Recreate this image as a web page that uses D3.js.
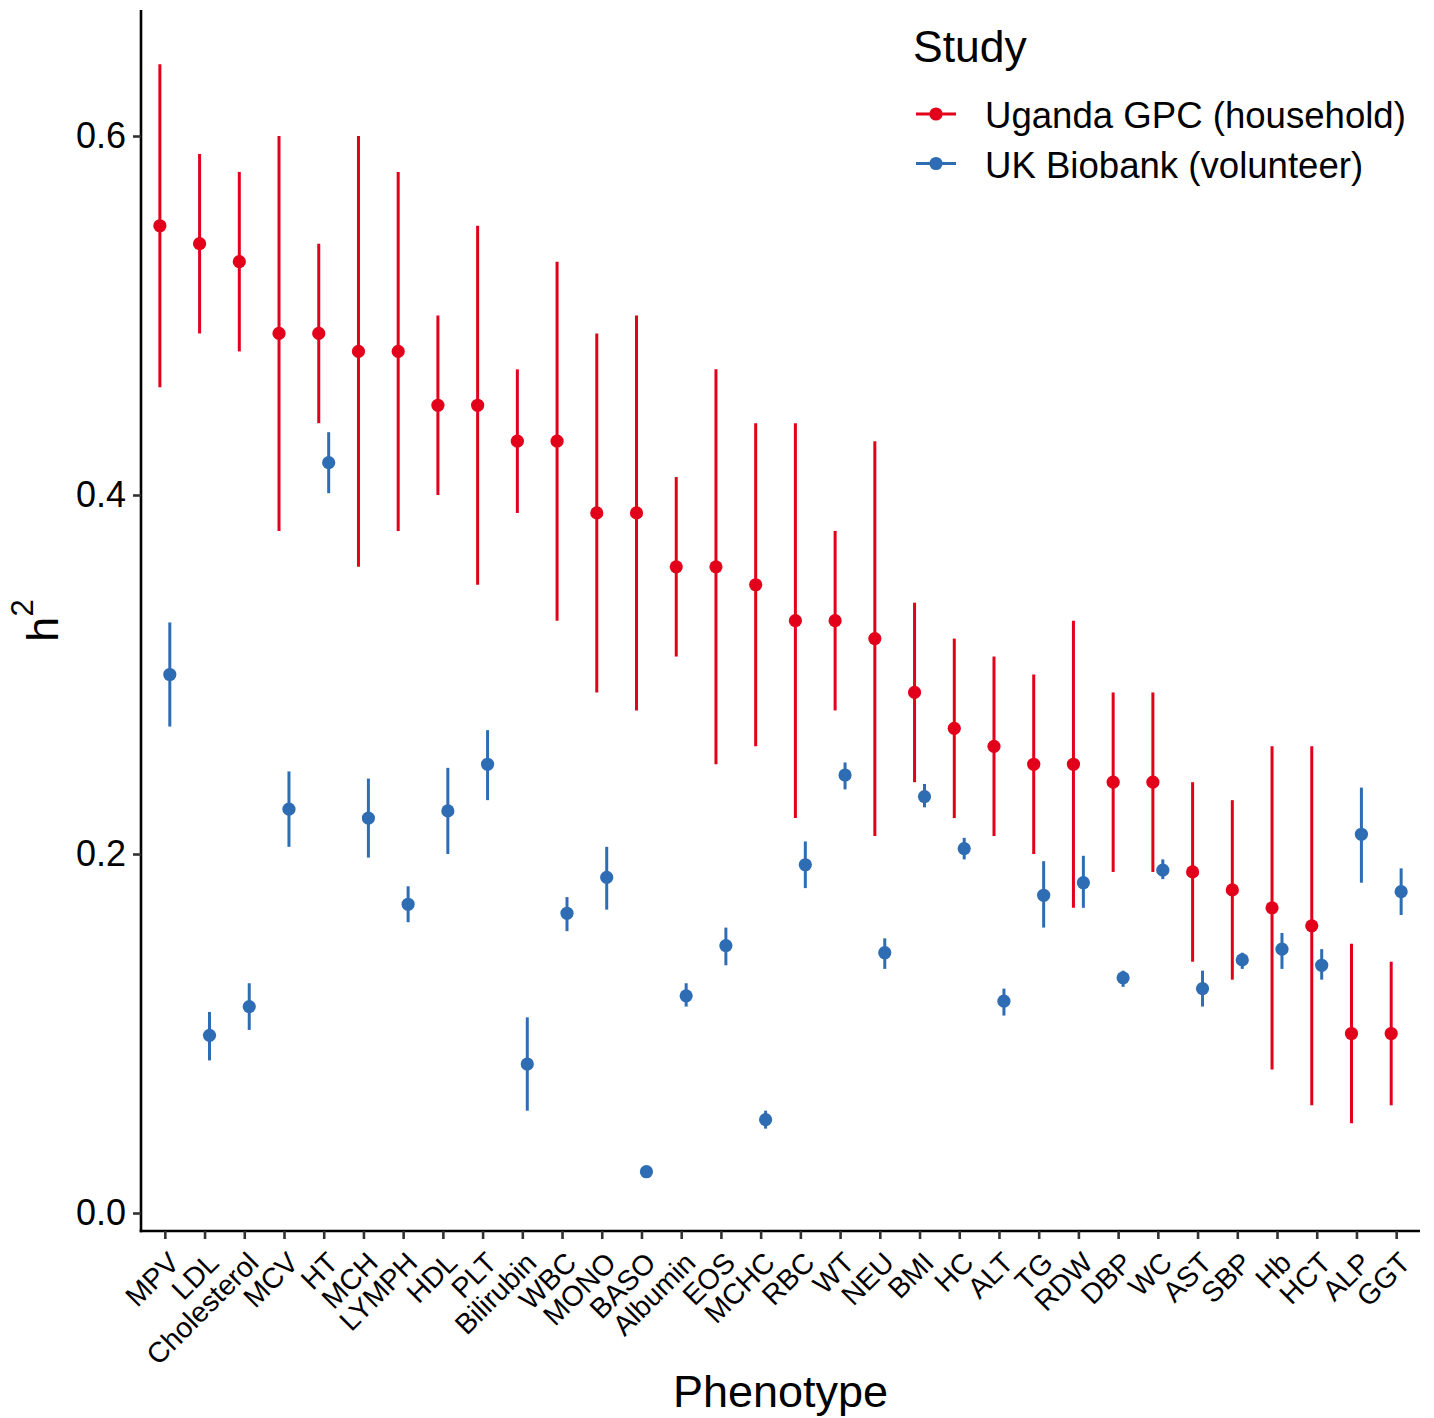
<!DOCTYPE html>
<html>
<head>
<meta charset="utf-8">
<script src="https://cdn.jsdelivr.net/npm/d3@7"></script>
<style>
  body { margin: 0; background: #fff; }
  text { font-family: "Liberation Sans", Arial, sans-serif; fill: #000; }
</style>
</head>
<body>
<svg id="chart" width="1434" height="1418"></svg>
<script>
/* Data (h2 estimate with lower / upper bound) */
const phenotypes = ["MPV", "LDL", "Cholesterol", "MCV", "HT", "MCH", "LYMPH", "HDL", "PLT", "Bilirubin",
  "WBC", "MONO", "BASO", "Albumin", "EOS", "MCHC", "RBC", "WT", "NEU", "BMI", "HC", "ALT", "TG", "RDW",
  "DBP", "WC", "AST", "SBP", "Hb", "HCT", "ALP", "GGT"];

const ugandaH2 = [0.55, 0.54, 0.53, 0.49, 0.49, 0.48, 0.48, 0.45, 0.45, 0.43, 0.43, 0.39, 0.39, 0.36, 0.36, 0.35,
  0.33, 0.33, 0.32, 0.29, 0.27, 0.26, 0.25, 0.25, 0.24, 0.24, 0.19, 0.18, 0.17, 0.16, 0.10, 0.10];
const ugandaLo = [0.46, 0.49, 0.48, 0.38, 0.44, 0.36, 0.38, 0.40, 0.35, 0.39, 0.33, 0.29, 0.28, 0.31, 0.25, 0.26,
  0.22, 0.28, 0.21, 0.24, 0.22, 0.21, 0.20, 0.17, 0.19, 0.19, 0.14, 0.13, 0.08, 0.06, 0.05, 0.06];
const ugandaHi = [0.64, 0.59, 0.58, 0.60, 0.54, 0.60, 0.58, 0.50, 0.55, 0.47, 0.53, 0.49, 0.50, 0.41, 0.47, 0.44,
  0.44, 0.38, 0.43, 0.34, 0.32, 0.31, 0.30, 0.33, 0.29, 0.29, 0.24, 0.23, 0.26, 0.26, 0.15, 0.14];

const ukH2 = [0.300, 0.099, 0.115, 0.225, 0.418, 0.220, 0.172, 0.224, 0.250, 0.083, 0.167, 0.187, 0.023, 0.121,
  0.149, 0.052, 0.194, 0.244, 0.145, 0.232, 0.203, 0.118, 0.177, 0.184, 0.131, 0.191, 0.125, 0.141, 0.147,
  0.138, 0.211, 0.179];
const ukLo = [0.271, 0.085, 0.102, 0.204, 0.401, 0.198, 0.162, 0.200, 0.230, 0.057, 0.157, 0.169, 0.022, 0.115,
  0.138, 0.047, 0.181, 0.236, 0.136, 0.226, 0.197, 0.110, 0.159, 0.170, 0.126, 0.186, 0.115, 0.136, 0.136,
  0.130, 0.184, 0.166];
const ukHi = [0.329, 0.112, 0.128, 0.246, 0.435, 0.242, 0.182, 0.248, 0.269, 0.109, 0.176, 0.204, 0.024, 0.128,
  0.159, 0.057, 0.207, 0.251, 0.153, 0.239, 0.209, 0.125, 0.196, 0.199, 0.135, 0.197, 0.135, 0.145, 0.156,
  0.147, 0.237, 0.192];

const studies = ["Uganda GPC (household)", "UK Biobank (volunteer)"];
const studyColors = ["#E2001A", "#2E6DB4"];
const yTicks = [0, 0.2, 0.4, 0.6];

/* Layout */
const plot = { left: 141, right: 1420, top: 10, bottom: 1231 };
const font = "'Liberation Sans', Arial, sans-serif";

const svg = d3.select("#chart");

const x = d3.scalePoint()
  .domain(phenotypes)
  .range([plot.left, plot.right])
  .padding(0.6);

const y = d3.scaleLinear()
  .domain([-0.01003, 0.6702])
  .range([plot.bottom, plot.top]);

// position_dodge: Uganda left of the tick, UK right of it
const dodge = x.step() * 0.125;

const series = [
  { study: studies[0], color: studyColors[0], offset: -dodge,
    rows: phenotypes.map((p, i) => ({ p, v: ugandaH2[i], lo: ugandaLo[i], hi: ugandaHi[i] })) },
  { study: studies[1], color: studyColors[1], offset: dodge,
    rows: phenotypes.map((p, i) => ({ p, v: ukH2[i], lo: ukLo[i], hi: ukHi[i] })) }
];

// Error ranges and points
const groups = svg.append("g")
  .selectAll("g")
  .data(series)
  .join("g");

groups.selectAll("line")
  .data(s => s.rows.map(r => ({ ...r, s })))
  .join("line")
  .attr("x1", d => x(d.p) + d.s.offset)
  .attr("x2", d => x(d.p) + d.s.offset)
  .attr("y1", d => y(d.lo))
  .attr("y2", d => y(d.hi))
  .attr("stroke", d => d.s.color)
  .attr("stroke-width", 3);

groups.selectAll("circle")
  .data(s => s.rows.map(r => ({ ...r, s })))
  .join("circle")
  .attr("cx", d => x(d.p) + d.s.offset)
  .attr("cy", d => y(d.v))
  .attr("r", 6.6)
  .attr("fill", d => d.s.color);

// Y axis
const yAxis = svg.append("g")
  .attr("transform", `translate(${plot.left},0)`)
  .call(d3.axisLeft(y).tickValues(yTicks).tickFormat(d3.format(".1f"))
    .tickSize(8).tickSizeOuter(0).tickPadding(7));
yAxis.select(".domain").attr("stroke", "#000").attr("stroke-width", 2.6)
  .attr("d", `M0,${plot.top}V${plot.bottom + 1.3}`);
yAxis.selectAll(".tick line").attr("stroke", "#333").attr("stroke-width", 2.6);
yAxis.selectAll(".tick text").attr("font-size", 36).attr("fill", "#000")
  .style("font-family", font);

// X axis
const xAxis = svg.append("g")
  .attr("transform", `translate(0,${plot.bottom})`)
  .call(d3.axisBottom(x).tickSize(8).tickSizeOuter(0));
xAxis.select(".domain").attr("stroke", "#000").attr("stroke-width", 2.6)
  .attr("d", `M${plot.left - 1.3},0H${plot.right}`);
xAxis.selectAll(".tick line").attr("stroke", "#333").attr("stroke-width", 2.6);
xAxis.selectAll(".tick text")
  .attr("x", 0)
  .attr("y", 0)
  .attr("dy", "0.72em")
  .attr("text-anchor", "end")
  .attr("transform", "translate(1,19) rotate(-45)")
  .attr("font-size", 28.5)
  .attr("fill", "#000")
  .style("font-family", font);

// Axis titles
svg.append("text")
  .attr("x", (plot.left + plot.right) / 2)
  .attr("y", 1407)
  .attr("text-anchor", "middle")
  .attr("font-size", 45)
  .text("Phenotype");

const yTitle = svg.append("text")
  .attr("transform", `translate(58,${(plot.top + plot.bottom) / 2}) rotate(-90)`)
  .attr("text-anchor", "middle")
  .attr("font-size", 45);
yTitle.append("tspan").text("h");
yTitle.append("tspan").attr("font-size", 31).attr("dy", -25).text("2");

// Legend
const legend = svg.append("g");
legend.append("text")
  .attr("x", 913)
  .attr("y", 62)
  .attr("font-size", 44.5)
  .text("Study");

const items = legend.selectAll("g.item")
  .data(series)
  .join("g")
  .attr("class", "item")
  .attr("transform", (d, i) => `translate(0,${114 + i * 49.5})`);
items.append("line")
  .attr("x1", 916).attr("x2", 956)
  .attr("stroke", d => d.color)
  .attr("stroke-width", 3);
items.append("circle")
  .attr("cx", 936)
  .attr("r", 6.6)
  .attr("fill", d => d.color);
items.append("text")
  .attr("x", 985)
  .attr("y", 14)
  .attr("font-size", 36.6)
  .text(d => d.study);
</script>
</body>
</html>
